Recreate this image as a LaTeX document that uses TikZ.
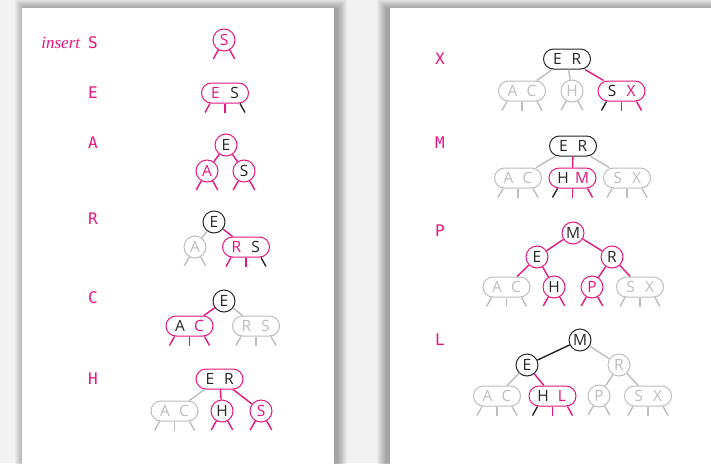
\documentclass[tikz,border=0pt]{standalone}
\usepackage{fontspec}
\setsansfont{Open Sans}
\setmonofont{DejaVu Sans Mono}
\newfontfamily\labelserif{Liberation Serif}
\usetikzlibrary{positioning}
\definecolor{TreePink}{HTML}{E6157F}
\definecolor{TreeGray}{HTML}{BDBDBD}
\definecolor{TreeInk}{HTML}{262626}
\definecolor{PageBack}{HTML}{F2F2F2}
\newcommand{\keypair}[2]{\makebox[19pt]{#1}\makebox[19pt]{#2}}
\newcommand{\pk}[1]{\textcolor{TreePink}{#1}}

\begin{document}
\begin{tikzpicture}[x=1pt,y=-1pt]
    \tikzset{twonode/.style={circle,draw,line width=1pt,minimum size=22pt,inner sep=0pt,font=\sffamily\fontsize{15.5}{15.5}\selectfont},
      threenode/.style={rectangle,rounded corners=10pt,draw,line width=1pt,minimum width=47pt,minimum height=20pt,inner sep=0pt,font=\sffamily\fontsize{15.5}{15.5}\selectfont},
      newnode/.style={draw=TreePink,text=TreeInk},
      oldnode/.style={draw=TreeGray,text=TreeGray},
      inknode/.style={draw=TreeInk,text=TreeInk},
      link/.style={line width=1.4pt},
      key/.style={font=\ttfamily\fontsize{16}{16}\selectfont,text=TreePink}}
    \useasboundingbox (0,0) rectangle (711,463);
    \clip (0,0) rectangle (711,463);
    \fill[PageBack] (0,0) rectangle (711,463);
    % the two cards
    \foreach \i in {1,...,10} {
      \fill[black,opacity=0.035] (22+3-\i,8+1-\i) rectangle (334+3+\i,480);
      \fill[black,opacity=0.035] (390-3-\i,8+1-\i) rectangle (740,480);
    }
    \fill[white] (22,8) rectangle (334,480);
    \fill[white] (390,8) rectangle (740,480);

    % insert S
    \node[key] (keyS) at (93,43) {S};
    \node[key,base left=1pt of keyS] (ins) {\labelserif\itshape\fontsize{17}{17}\selectfont insert};
    \node[twonode,newnode,text=TreePink] (iS) at (224,40) {S};

    % E
    \node[key] (keyE) at (93,93) {E};
    \node[threenode,newnode] (eES) at (225,93) {\keypair{\pk{E}}{S}};

    % A
    \node[key] (keyA) at (93,143) {A};
    \node[twonode,newnode] (aE) at (226,145) {E};
    \node[twonode,newnode,text=TreePink] (aA) at (207,171) {A};
    \node[twonode,newnode] (aS) at (244,171) {S};
    \draw[link,TreePink] (aE) -- (aA);
    \draw[link,TreePink] (aE) -- (aS);

    % R
    \node[key] (keyR) at (93,219) {R};
    \node[twonode,inknode] (rE) at (214,222) {E};
    \node[twonode,oldnode] (rA) at (195,247) {A};
    \node[threenode,newnode] (rRS) at (246,247) {\keypair{\pk{R}}{S}};
    \draw[link,TreeGray] (rE) -- (rA);
    \draw[link,TreePink] (rE) -- (rRS);

    % C
    \node[key] (keyC) at (93,298) {C};
    \node[twonode,inknode] (cE) at (224,301) {E};
    \node[threenode,newnode] (cAC) at (189.5,326) {\keypair{A}{\pk{C}}};
    \node[threenode,oldnode] (cRS) at (256,326) {\keypair{R}{S}};
    \draw[link,TreePink] (cE) -- (cAC);
    \draw[link,TreeGray] (cE) -- (cRS);

    % H
    \node[key] (keyH) at (93,379) {H};
    \node[threenode,newnode] (hER) at (219.5,379) {\keypair{E}{R}};
    \node[threenode,oldnode] (hAC) at (174.5,411) {\keypair{A}{C}};
    \node[twonode,newnode] (hH) at (222,411) {H};
    \node[twonode,newnode,text=TreePink] (hS) at (261,411) {S};
    \draw[link,TreeGray] (hER) -- (hAC);
    \draw[link,TreePink] (hER) -- (hH);
    \draw[link,TreePink] (hER) -- (hS);

    % X
    \node[key] (keyX) at (440,59) {X};
    \node[threenode,inknode] (xER) at (567,59) {\keypair{E}{R}};
    \node[threenode,oldnode] (xAC) at (522,91) {\keypair{A}{C}};
    \node[twonode,oldnode] (xH) at (572,91) {H};
    \node[threenode,newnode] (xSX) at (621.5,91) {\keypair{S}{\pk{X}}};
    \draw[link,TreeGray] (xER) -- (xAC);
    \draw[link,TreeGray] (xER) -- (xH);
    \draw[link,TreePink] (xER) -- (xSX);

    % M
    \node[key] (keyM) at (440,143) {M};
    \node[threenode,inknode] (mER) at (573,146) {\keypair{E}{R}};
    \node[threenode,oldnode] (mAC) at (518,178) {\keypair{A}{C}};
    \node[threenode,newnode] (mHM) at (572.5,178) {\keypair{H}{\pk{M}}};
    \node[threenode,oldnode] (mSX) at (627,178) {\keypair{S}{X}};
    \draw[link,TreeGray] (mER) -- (mAC);
    \draw[link,TreePink] (mER) -- (mHM);
    \draw[link,TreeGray] (mER) -- (mSX);

    % P
    \node[key] (keyP) at (440,231) {P};
    \node[twonode,newnode] (pM) at (573,233) {M};
    \node[twonode,newnode] (pE) at (537,257) {E};
    \node[twonode,newnode] (pR) at (612,257) {R};
    \node[threenode,oldnode] (pAC) at (506.5,287) {\keypair{A}{C}};
    \node[twonode,newnode] (pH) at (554,287) {H};
    \node[twonode,newnode,text=TreePink] (pP) at (592,287) {P};
    \node[threenode,oldnode] (pSX) at (640,287) {\keypair{S}{X}};
    \draw[link,TreePink] (pM) -- (pE);
    \draw[link,TreePink] (pM) -- (pR);
    \draw[link,TreePink] (pE) -- (pAC);
    \draw[link,TreePink] (pE) -- (pH);
    \draw[link,TreePink] (pR) -- (pP);
    \draw[link,TreePink] (pR) -- (pSX);

    % L
    \node[key] (keyL) at (440,340) {L};
    \node[twonode,inknode] (lM) at (580,340) {M};
    \node[twonode,inknode] (lE) at (527,365) {E};
    \node[twonode,oldnode] (lR) at (619,365) {R};
    \node[threenode,oldnode] (lAC) at (497,396) {\keypair{A}{C}};
    \node[threenode,newnode] (lHL) at (552.5,396) {\keypair{H}{\pk{L}}};
    \node[twonode,oldnode] (lP) at (599,396) {P};
    \node[threenode,oldnode] (lSX) at (648,396) {\keypair{S}{X}};
    \draw[link,TreeInk] (lM) -- (lE);
    \draw[link,TreeGray] (lM) -- (lR);
    \draw[link,TreeGray] (lE) -- (lAC);
    \draw[link,TreePink] (lE) -- (lHL);
    \draw[link,TreeGray] (lR) -- (lP);
    \draw[link,TreeGray] (lR) -- (lSX);

    % empty links under the bottom nodes
    \foreach \n/\c in {iS/TreePink,aA/TreePink,aS/TreePink,rA/TreeGray,hH/TreePink,hS/TreePink,
      xH/TreeGray,pH/TreePink,pP/TreePink,lP/TreeGray}
      \draw[link,\c] (\n.-120) -- ++(-5,9) (\n.-60) -- ++(5,9);
    \foreach \n/\l/\m/\r in {eES/TreePink/TreePink/TreeInk,rRS/TreePink/TreePink/TreeInk,
      cAC/TreePink/TreePink/TreePink,cRS/TreeGray/TreeGray/TreeGray,hAC/TreeGray/TreeGray/TreeGray,
      xAC/TreeGray/TreeGray/TreeGray,xSX/TreeInk/TreePink/TreePink,mAC/TreeGray/TreeGray/TreeGray,
      mHM/TreeInk/TreePink/TreePink,mSX/TreeGray/TreeGray/TreeGray,pAC/TreeGray/TreeGray/TreeGray,
      pSX/TreeGray/TreeGray/TreeGray,lAC/TreeGray/TreeGray/TreeGray,lHL/TreeInk/TreePink/TreePink,
      lSX/TreeGray/TreeGray/TreeGray} {
      \draw[link,\l] ([xshift=-15pt]\n.south) -- ++(-5,9);
      \draw[link,\m] (\n.south) -- ++(0,9);
      \draw[link,\r] ([xshift=15pt]\n.south) -- ++(5,9);
    }
  \end{tikzpicture}
\end{document}
